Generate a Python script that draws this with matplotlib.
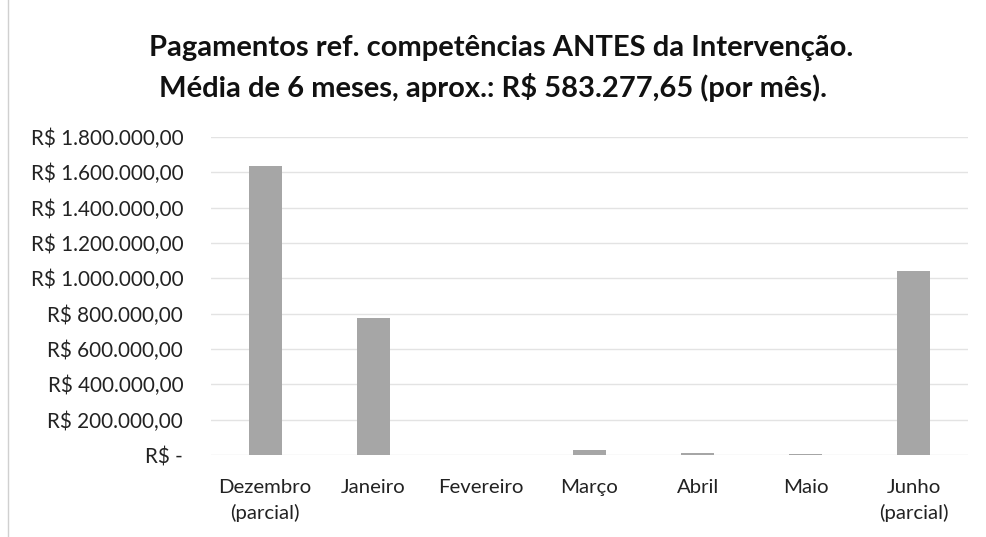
import matplotlib.pyplot as plt
import numpy as np

# dados
meses = ['Dezembro\n(parcial)', 'Janeiro', 'Fevereiro', 'Março', 'Abril', 'Maio', 'Junho\n(parcial)']
valores = [1636000, 775000, 0, 28000, 10000, 5000, 1042000]
yticks = np.arange(0, 1800001, 200000)

def fmt_brl(v):
    if v == 0:
        return 'R$ -'
    s = '{:,.2f}'.format(v)
    s = s.replace(',', 'X').replace('.', ',').replace('X', '.')
    return 'R$ ' + s

plt.rcParams['font.family'] = ['Lato', 'DejaVu Sans']

fig = plt.figure(figsize=(9.86, 5.37), dpi=100)
ax = fig.add_axes([211/986, 1-455/537, (968-211)/986, (455-137)/537])

x = np.arange(len(meses))
ax.bar(x, valores, width=0.305, color='#a6a6a6', zorder=2)

ax.set_xlim(-0.5, len(meses)-0.5)
ax.set_ylim(0, 1800000)
ax.set_yticks(yticks)
ax.set_yticklabels([fmt_brl(v) for v in yticks], fontsize=14.9, color='#222222')
ax.set_xticks(x)
ax.set_xticklabels(meses, fontsize=14.7, color='#222222', linespacing=1.55)
ax.tick_params(length=0, axis='y', pad=20)
ax.tick_params(length=0, axis='x', pad=17)
ax.grid(axis='y', color='#e3e3e3', linewidth=1, zorder=0)
for s in ax.spines.values():
    s.set_visible(False)

fig.text(0.508, 1-48/537, 'Pagamentos ref. competências ANTES da Intervenção.',
         ha='center', va='center', fontsize=21, fontweight='bold', color='#111111')
fig.text(0.5, 1-88/537, 'Média de 6 meses, aprox.: R$ 583.277,65 (por mês).',
         ha='center', va='center', fontsize=21, fontweight='bold', color='#111111')

# borda esquerda da digitalização
fig.add_artist(plt.Line2D([8/986, 8/986], [0, 1], color='#d0d0d0', linewidth=1))

plt.savefig('out.png', dpi=100)
